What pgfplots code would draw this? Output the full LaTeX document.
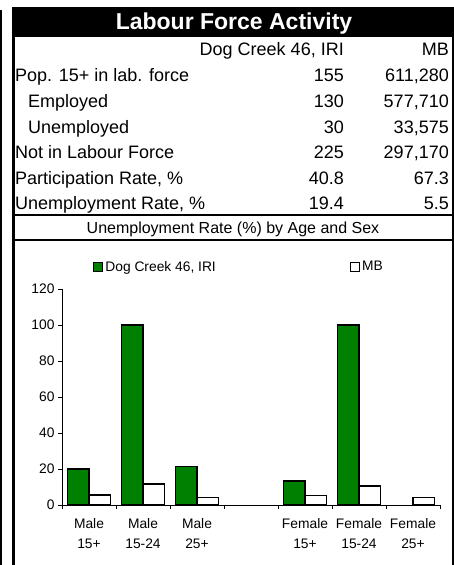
\documentclass[border=0pt]{standalone}
\usepackage{pgfplots}
\pgfplotsset{compat=1.18}
\usepackage{fontspec}
\setmainfont{Liberation Sans}
\definecolor{barGreen}{RGB}{0,128,0}
\newcommand\tabfont{\fontsize{18}{21.6}\selectfont}
\newcommand\chartfont{\fontsize{13.8}{20}\selectfont}

\begin{document}
\begin{tikzpicture}[x=1pt,y=1pt]
\useasboundingbox (0,0) rectangle (454,565);
% frame
\fill[black] (0,0) rectangle (2,555);
\fill[black] (12,0) rectangle (15,558);
\fill[black] (12,528) rectangle (454,558);
\fill[black] (452,0) rectangle (454,528);
\fill[black] (12,349) rectangle (454,351);
\fill[black] (12,324) rectangle (454,326);

% table
\node[white, font=\fontsize{23}{27}\selectfont\bfseries, anchor=base, inner sep=0] at (234,535.5) {Labour Force Activity};
\begin{scope}[every node/.style={inner sep=0, font=\tabfont}]
\node[anchor=base east] at (344,509) {Dog Creek 46, IRI};
\node[anchor=base east] at (449,509) {MB};
\node[anchor=base west] at (15,483.5) {Pop. 15+ in lab. force};
\node[anchor=base east] at (344,483.5) {155};
\node[anchor=base east] at (449,483.5) {611,280};
\node[anchor=base west] at (28,457.5) {Employed};
\node[anchor=base east] at (344,457.5) {130};
\node[anchor=base east] at (449,457.5) {577,710};
\node[anchor=base west] at (28,431.5) {Unemployed};
\node[anchor=base east] at (344,431.5) {30};
\node[anchor=base east] at (449,431.5) {33,575};
\node[anchor=base west] at (15,406.5) {Not in Labour Force};
\node[anchor=base east] at (344,406.5) {225};
\node[anchor=base east] at (449,406.5) {297,170};
\node[anchor=base west] at (15,380.5) {Participation Rate, \%};
\node[anchor=base east] at (344,380.5) {40.8};
\node[anchor=base east] at (449,380.5) {67.3};
\node[anchor=base west] at (15,355.5) {Unemployment Rate, \%};
\node[anchor=base east] at (344,355.5) {19.4};
\node[anchor=base east] at (449,355.5) {5.5};
\node[anchor=base, font=\fontsize{16}{19}\selectfont] at (233,331.5) {Unemployment Rate (\%) by Age and Sex};
\end{scope}

\begin{axis}[
    at={(62pt,60pt)}, anchor=south west,
    scale only axis, width=378pt, height=216pt,
    xmin=-0.5, xmax=6.5, ymin=0, ymax=120,
    axis x line*=bottom, axis y line*=left,
    axis line style={black, line width=0.8pt},
    ybar=0pt, bar width=0.4,
    ytick={0,20,...,120},
    xtick={0,...,6},
    xticklabels={{Male\\15+},{Male\\15-24},{Male\\25+},{},{Female\\15+},{Female\\15-24},{Female\\25+}},
    xticklabel style={align=center, font=\chartfont, yshift=-6pt},
    yticklabel style={font=\chartfont},
    /pgf/number format/assume math mode=true,
    major x tick style={draw=none},
    minor xtick={-0.5,0.5,...,6.5},
    tick align=outside,
    major tick length=4pt, minor tick length=4pt,
    tick style={black, line width=0.8pt},
    legend style={draw=none, fill=none, at={(0.082,1.102)}, anchor=west,
        legend columns=2, font=\chartfont, inner sep=0pt,
        /tikz/every even column/.append style={column sep=132pt}},
    legend image code/.code={\draw[#1,/tikz/.cd,draw=black,line width=1.2pt] (0pt,-4.5pt) rectangle (9pt,4.5pt);},
]
\addplot[fill=barGreen, draw=black, line width=1.5pt]
    coordinates {(0,20) (1,100) (2,21.4) (4,13.3) (5,100)};
\addlegendentry{Dog Creek 46, IRI}
\addplot[fill=white, draw=black, line width=1.5pt]
    coordinates {(0,5.6) (1,11.8) (2,4.3) (4,5.4) (5,10.6) (6,4.3)};
\addlegendentry{MB}
\end{axis}
\end{tikzpicture}
\end{document}
